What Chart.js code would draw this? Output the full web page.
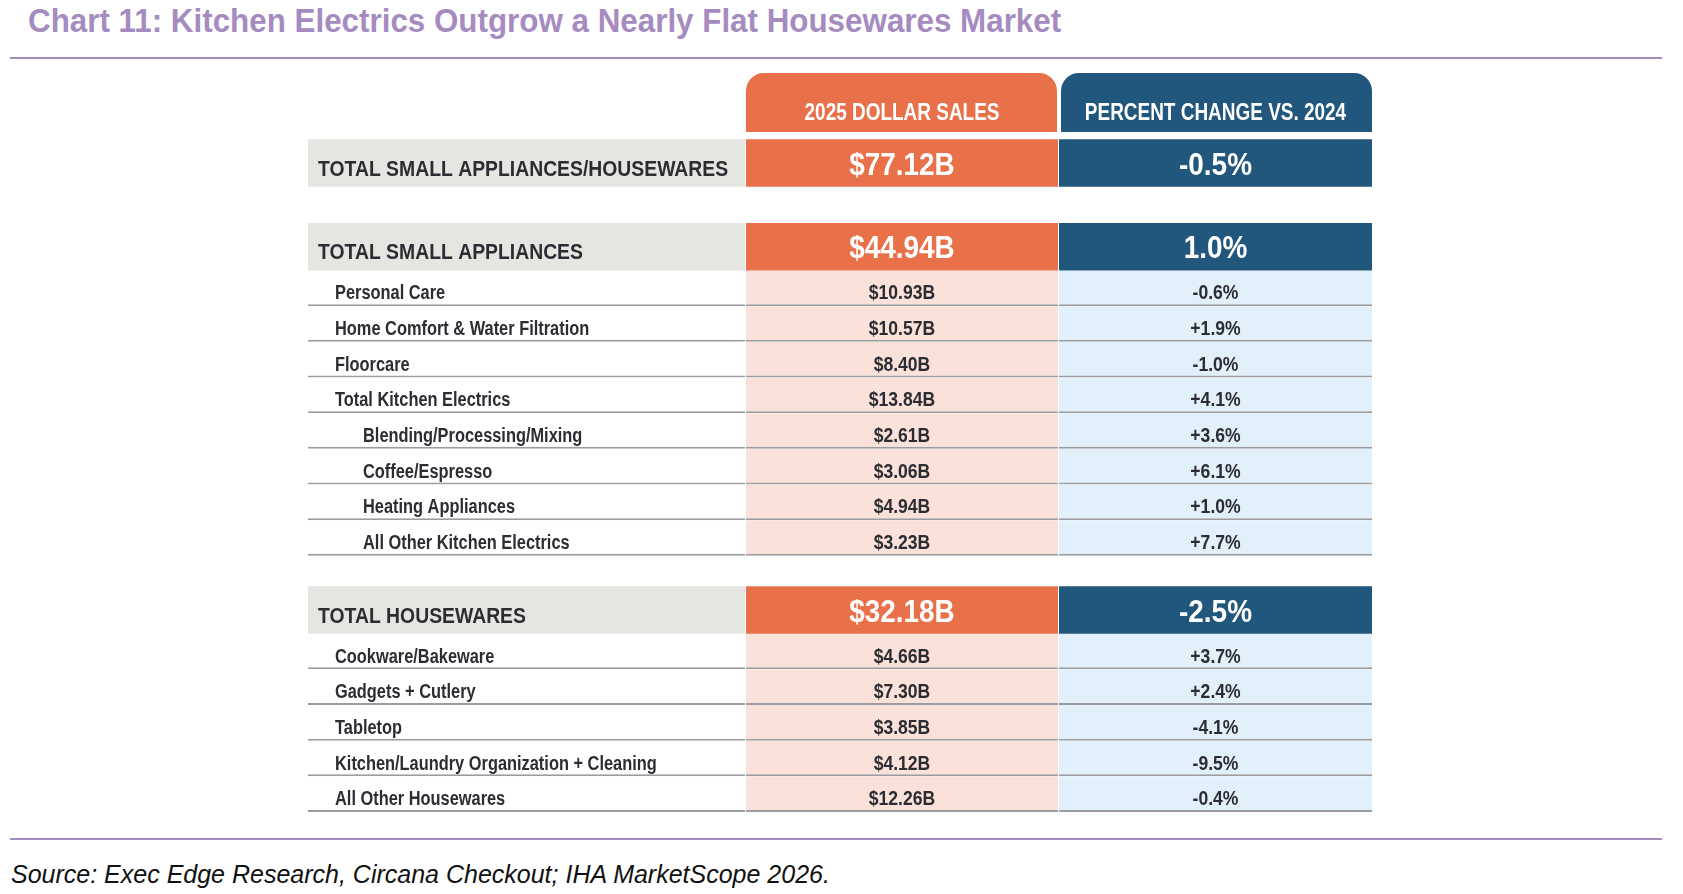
<!DOCTYPE html>
<html>
<head>
<meta charset="utf-8">
<script src="https://cdn.jsdelivr.net/npm/chart.js@4.4.1/dist/chart.umd.min.js"></script>
<style>
  body { margin: 0; width: 1683px; height: 894px; background: #fff; position: relative; overflow: hidden; font-family: "Liberation Sans", Arial, sans-serif; }
  #title { position: absolute; left: 28px; top: 1px; font-size: 33px; line-height: 40px; font-weight: bold; color: #a68bc1; white-space: nowrap; transform: scaleX(0.95); transform-origin: left top; }
  .rule { position: absolute; left: 10px; width: 1652px; height: 2px; background: #a68bc1; }
  #source { position: absolute; left: 11px; top: 859px; font-size: 25px; line-height: 30px; font-style: italic; color: #111; white-space: nowrap; }
  #wrap { position: absolute; left: 308px; top: 73px; width: 1064px; height: 739px; }
</style>
</head>
<body>
<div id="title">Chart 11: Kitchen Electrics Outgrow a Nearly Flat Housewares Market</div>
<div class="rule" style="top:57px"></div>
<div id="wrap"><canvas id="salesTable" width="1064" height="739"></canvas></div>
<div class="rule" style="top:838px"></div>
<div id="source">Source: Exec Edge Research, Circana Checkout; IHA MarketScope 2026.</div>
<script>
const headers = ["2025 DOLLAR SALES", "PERCENT CHANGE VS. 2024"];
const rowLabels = [
  "TOTAL SMALL APPLIANCES/HOUSEWARES",
  "TOTAL SMALL APPLIANCES",
  "Personal Care",
  "Home Comfort & Water Filtration",
  "Floorcare",
  "Total Kitchen Electrics",
  "Blending/Processing/Mixing",
  "Coffee/Espresso",
  "Heating Appliances",
  "All Other Kitchen Electrics",
  "TOTAL HOUSEWARES",
  "Cookware/Bakeware",
  "Gadgets + Cutlery",
  "Tabletop",
  "Kitchen/Laundry Organization + Cleaning",
  "All Other Housewares",
];
// 0 = total row, 1 = category, 2 = sub-category of kitchen electrics
const rowLevels = [0, 0, 1, 1, 1, 1, 2, 2, 2, 2, 0, 1, 1, 1, 1, 1];
const dollarSales = [77.12, 44.94, 10.93, 10.57, 8.40, 13.84, 2.61, 3.06, 4.94, 3.23, 32.18, 4.66, 7.30, 3.85, 4.12, 12.26];
const pctChange = [-0.5, 1.0, -0.6, 1.9, -1.0, 4.1, 3.6, 6.1, 1.0, 7.7, -2.5, 3.7, 2.4, -4.1, -9.5, -0.4];

const orange = "#e8714a", blue = "#21577d", pink = "#fae1d9", sky = "#e2f0fb", gray = "#e6e5e2";
const ink = "#2b2d33";
const face = '"Liberation Sans", Arial, sans-serif';

// row heights measured in sub-row units
const headerH = 1.655, totalH = 1.33, subH = 1;
let cursor = headerH;
const rowMid = [];
rowLevels.forEach((lv, i) => {
  if (i === 0) cursor += 0.205;
  else if (lv === 0) cursor += i === 1 ? 1.02 : 0.855;
  const h = lv === 0 ? totalH : subH;
  rowMid.push(cursor + h / 2);
  cursor += h;
});
const totalUnits = cursor;

// column edges along x (label | sales | change)
const labelCol = [0, 437], salesCol = [438, 750], pctCol = [751, 1064];

const fmtSales = v => "$" + v.toFixed(2) + "B";
const fmtPct = (v, lv) => (lv > 0 && v > 0 ? "+" : "") + v.toFixed(1) + "%";

const totalCells = [], totalColors = [], subCells = [], subColors = [];
rowLevels.forEach((lv, i) => {
  const cells = lv === 0 ? totalCells : subCells;
  const colors = lv === 0 ? totalColors : subColors;
  cells.push({ x: labelCol, y: rowMid[i] }, { x: salesCol, y: rowMid[i] }, { x: pctCol, y: rowMid[i] });
  if (lv === 0) colors.push(gray, orange, blue);
  else colors.push("#ffffff", pink, sky);
});

// condensed text: squeeze a bold sans horizontally
function squeezed(ctx, text, x, y, size, sx, align) {
  ctx.save();
  ctx.font = "bold " + size + "px " + face;
  const w = ctx.measureText(text).width * sx;
  ctx.translate(align === "center" ? x - w / 2 : x, y);
  ctx.scale(sx, 1);
  ctx.textAlign = "left";
  ctx.textBaseline = "alphabetic";
  ctx.fillText(text, 0, 0);
  ctx.restore();
}

const cellText = {
  id: "cellText",
  afterDatasetsDraw(chart) {
    const { ctx, scales: { x, y } } = chart;
    const salesX = x.getPixelForValue((salesCol[0] + salesCol[1]) / 2);
    const pctX = x.getPixelForValue((pctCol[0] + pctCol[1]) / 2);
    ctx.save();
    ctx.fillStyle = "#ffffff";
    const hb = y.getPixelForValue(headerH) - 11.7;
    squeezed(ctx, headers[0], salesX, hb, 24, 0.79, "center");
    squeezed(ctx, headers[1], pctX, hb, 24, 0.79, "center");

    rowLabels.forEach((label, i) => {
      const lv = rowLevels[i];
      const cy = y.getPixelForValue(rowMid[i]);
      ctx.fillStyle = ink;
      if (lv === 0) {
        squeezed(ctx, label, x.getPixelForValue(10), cy + 12.5, 22, 0.88, "left");
        ctx.fillStyle = "#ffffff";
        squeezed(ctx, fmtSales(dollarSales[i]), salesX, cy + 11.5, 31, 0.9, "center");
        squeezed(ctx, fmtPct(pctChange[i], lv), pctX, cy + 11.5, 31, 0.9, "center");
      } else {
        squeezed(ctx, label, x.getPixelForValue(lv === 1 ? 27 : 55), cy + 11, 19.5, 0.84, "left");
        squeezed(ctx, fmtSales(dollarSales[i]), salesX, cy + 11, 19.5, 0.9, "center");
        squeezed(ctx, fmtPct(pctChange[i], lv), pctX, cy + 11, 19.5, 0.9, "center");
      }
    });
    ctx.restore();
  }
};

const common = { grouped: false, categoryPercentage: 1, borderSkipped: false, inflateAmount: 0 };

new Chart("salesTable", {
  type: "bar",
  data: {
    datasets: [
      {
        ...common,
        data: [{ x: [438, 749], y: headerH / 2 }, { x: [753, 1064], y: headerH / 2 }],
        backgroundColor: [orange, blue],
        barPercentage: headerH,
        borderWidth: 0,
        borderRadius: { topLeft: 18, topRight: 18, bottomLeft: 0, bottomRight: 0 },
      },
      {
        ...common,
        data: totalCells,
        backgroundColor: totalColors,
        barPercentage: totalH,
        borderWidth: 0,
      },
      {
        ...common,
        data: subCells,
        backgroundColor: subColors,
        barPercentage: subH,
        borderWidth: { top: 0, left: 0, right: 0, bottom: 2 },
        borderColor: "#9a9c9f",
      },
    ],
  },
  options: {
    indexAxis: "y",
    responsive: false,
    animation: false,
    events: [],
    layout: { padding: 0 },
    plugins: { legend: { display: false }, tooltip: { enabled: false } },
    scales: {
      x: { type: "linear", min: 0, max: 1064, offset: false, display: false },
      // only two ticks, so the one-unit sub-row spacing sets the bar thickness
      y: { type: "linear", min: 0, max: totalUnits, reverse: true, offset: false, display: false, ticks: { count: 2 } },
    },
  },
  plugins: [cellText],
});
</script>
</body>
</html>
